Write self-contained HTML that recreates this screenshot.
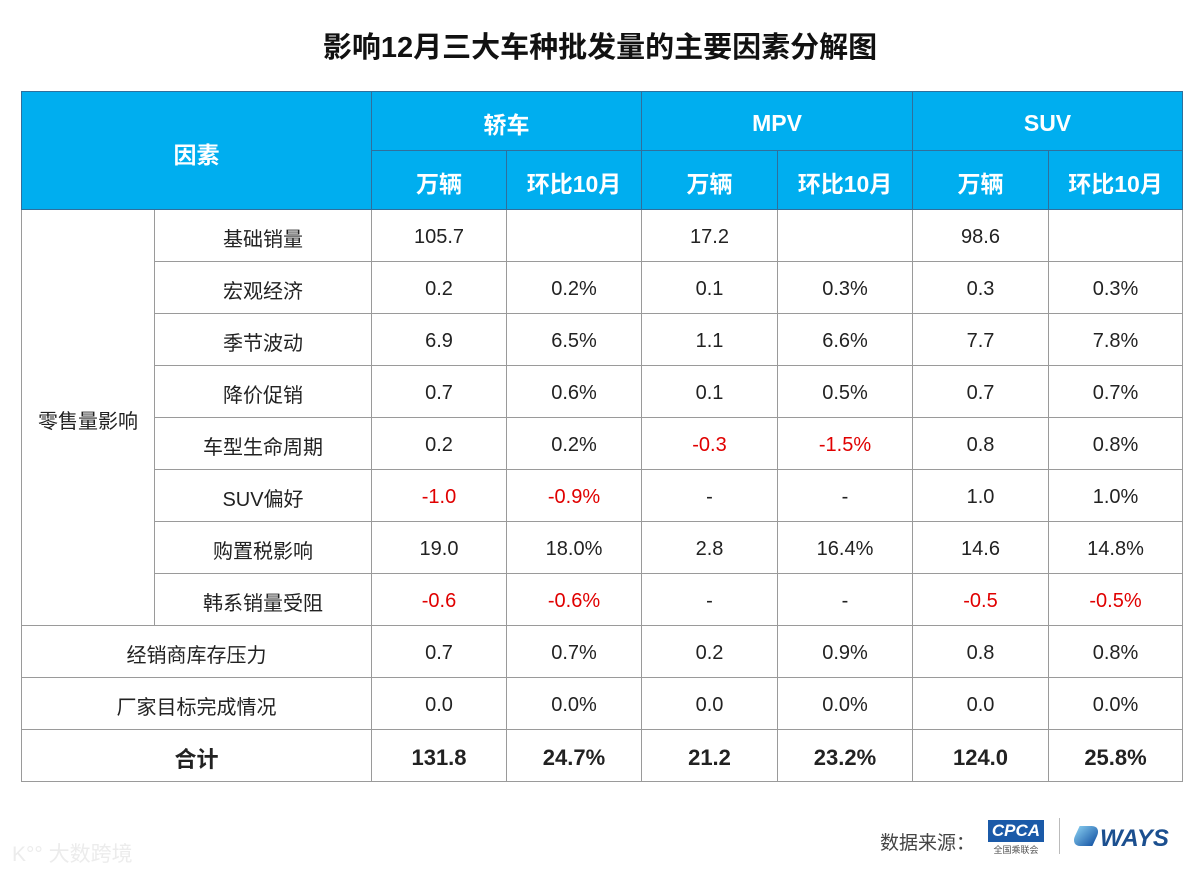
<!DOCTYPE html>
<html><head><meta charset="utf-8">
<style>
body{margin:0;width:1200px;height:875px;background:#fff;position:relative;overflow:hidden;font-family:"Liberation Sans","Noto Sans CJK SC",sans-serif;}
#title{position:absolute;left:0;top:24px;width:1200px;text-align:center;font-size:29px;font-weight:bold;color:#111;}
table{position:absolute;left:21px;top:91px;border-collapse:collapse;table-layout:fixed;width:1161px;}
td{text-align:center;font-size:20px;color:#222;border:1px solid #9a9a9a;padding:4px 0 0 0;}
tr.b td{height:47px;}
.h td{background:#00AEEF;color:#fff;font-weight:bold;font-size:23px;height:54px;border:1px solid #2f6f9c;}
.r{color:#e00000;}
.t td{font-weight:bold;font-size:22px;}
#src{position:absolute;left:880px;top:828px;font-size:19px;color:#444;}
#cpca{position:absolute;left:988px;top:820px;width:56px;height:22px;background:#1b5aa8;color:#fff;font-style:italic;font-weight:bold;font-size:17px;line-height:22px;text-align:center;}
#cpca2{position:absolute;left:988px;top:843px;width:56px;font-size:9px;color:#555;text-align:center;}
#sep{position:absolute;left:1059px;top:818px;width:1px;height:36px;background:#bbb;}
#ways{position:absolute;left:1100px;top:825px;font-size:24px;font-weight:bold;font-style:italic;color:#1b4f8f;}
#wico{position:absolute;left:1075px;top:826px;width:22px;height:20px;background:linear-gradient(120deg,#7fc4ea,#1b5aa8);transform:skewX(-25deg);border-radius:0 10px 0 10px;}
#wm{position:absolute;left:12px;top:838px;font-size:21px;color:#ececec;}
</style></head><body>
<div id="title">影响12月三大车种批发量的主要因素分解图</div>
<table>
<colgroup><col style="width:133px"><col style="width:217px"><col style="width:135px"><col style="width:135px"><col style="width:136px"><col style="width:135px"><col style="width:136px"><col style="width:134px"></colgroup>
<tr class="h"><td colspan="2" rowspan="2">因素</td><td colspan="2">轿车</td><td colspan="2">MPV</td><td colspan="2">SUV</td></tr>
<tr class="h"><td>万辆</td><td>环比10月</td><td>万辆</td><td>环比10月</td><td>万辆</td><td>环比10月</td></tr>
<tr class="b"><td rowspan="8">零售量影响</td><td>基础销量</td><td>105.7</td><td></td><td>17.2</td><td></td><td>98.6</td><td></td></tr>
<tr class="b"><td>宏观经济</td><td>0.2</td><td>0.2%</td><td>0.1</td><td>0.3%</td><td>0.3</td><td>0.3%</td></tr>
<tr class="b"><td>季节波动</td><td>6.9</td><td>6.5%</td><td>1.1</td><td>6.6%</td><td>7.7</td><td>7.8%</td></tr>
<tr class="b"><td>降价促销</td><td>0.7</td><td>0.6%</td><td>0.1</td><td>0.5%</td><td>0.7</td><td>0.7%</td></tr>
<tr class="b"><td>车型生命周期</td><td>0.2</td><td>0.2%</td><td class="r">-0.3</td><td class="r">-1.5%</td><td>0.8</td><td>0.8%</td></tr>
<tr class="b"><td>SUV偏好</td><td class="r">-1.0</td><td class="r">-0.9%</td><td>-</td><td>-</td><td>1.0</td><td>1.0%</td></tr>
<tr class="b"><td>购置税影响</td><td>19.0</td><td>18.0%</td><td>2.8</td><td>16.4%</td><td>14.6</td><td>14.8%</td></tr>
<tr class="b"><td>韩系销量受阻</td><td class="r">-0.6</td><td class="r">-0.6%</td><td>-</td><td>-</td><td class="r">-0.5</td><td class="r">-0.5%</td></tr>
<tr class="b"><td colspan="2">经销商库存压力</td><td>0.7</td><td>0.7%</td><td>0.2</td><td>0.9%</td><td>0.8</td><td>0.8%</td></tr>
<tr class="b"><td colspan="2">厂家目标完成情况</td><td>0.0</td><td>0.0%</td><td>0.0</td><td>0.0%</td><td>0.0</td><td>0.0%</td></tr>
<tr class="b t"><td colspan="2">合计</td><td>131.8</td><td>24.7%</td><td>21.2</td><td>23.2%</td><td>124.0</td><td>25.8%</td></tr>
</table>
<div id="src">数据来源：</div>
<div id="cpca">CPCA</div>
<div id="cpca2">全国乘联会</div>
<div id="sep"></div>
<div id="wico"></div>
<div id="ways">WAYS</div>
<div id="wm">K°° 大数跨境</div>
</body></html>
